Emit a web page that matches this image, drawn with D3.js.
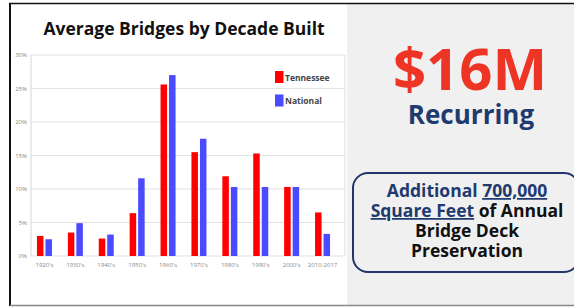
<!DOCTYPE html>
<html lang="en">
<head>
    <script src='https://d3js.org/d3.v7.min.js'></script>
</head>
<body style="margin:0;background:#fff;">
<style>
svg text { font-family: "Open Sans", sans-serif; }
.tick text { fill: #888; font-size: 6px; }
</style>
<script>
// chart data
var decades = ["1920's", "1930's", "1940's", "1950's", "1960's", "1970's", "1980's", "1990's", "2000's", "2010-2017"];
var tennessee = [3.0, 3.5, 2.6, 6.4, 25.6, 15.5, 11.9, 15.3, 10.3, 6.5];
var national = [2.5, 4.9, 3.2, 11.6, 27.0, 17.5, 10.3, 10.3, 10.3, 3.3];
var seriesNames = ["Tennessee", "National"];
var yTicks = [0, 5, 10, 15, 20, 25, 30];

var width = 574;
var height = 307;

var svg = d3.select("body")
.append("svg")
.attr("width", width)
.attr("height", height);

// panels
svg.append("rect").attr("x", 0).attr("y", 0).attr("width", width).attr("height", height).attr("fill", "#fff");
svg.append("rect").attr("x", 347).attr("y", 4).attr("width", width - 347).attr("height", 301).attr("fill", "#f0f0f0");

// plot area
var plot = {left: 31, right: 345, top: 55, bottom: 256};

var x = d3.scaleBand()
.domain(decades)
.range([29, 338])
.paddingInner(0);

var y = d3.scaleLinear()
.domain([0, 30])
.range([plot.bottom, plot.top]);

// gridlines
svg.append("g")
.selectAll("line")
.data(yTicks)
.enter()
.append("line")
.attr("x1", plot.left)
.attr("x2", plot.right)
.attr("y1", function(d) { return y(d); })
.attr("y2", function(d) { return y(d); })
.attr("stroke", "#e2e2e2")
.attr("stroke-width", 1.2);

svg.append("line")
.attr("x1", plot.left).attr("x2", plot.left)
.attr("y1", plot.top).attr("y2", plot.bottom)
.attr("stroke", "#dcdcdc").attr("stroke-width", 1.2);
svg.append("line")
.attr("x1", plot.right).attr("x2", plot.right)
.attr("y1", plot.top).attr("y2", plot.bottom)
.attr("stroke", "#e2e2e2").attr("stroke-width", 1.2);

// y axis
var yAxis = d3.axisLeft(y)
.tickValues(yTicks)
.tickSize(0)
.tickPadding(4)
.tickFormat(function(d) { return d + "%"; });

svg.append("g")
.attr("transform", "translate(" + plot.left + ",0)")
.call(yAxis)
.call(function(g) { g.select(".domain").remove(); });

// x axis
var xAxis = d3.axisBottom(x)
.tickSize(0)
.tickPadding(7);

svg.append("g")
.attr("transform", "translate(0," + plot.bottom + ")")
.call(xAxis)
.call(function(g) { g.select(".domain").remove(); });

// bars
var barW = 6.5;
var colors = ["#ff0000", "#4a4aff"];
var allSeries = [tennessee, national];

allSeries.forEach(function(vals, s) {
  svg.append("g")
  .selectAll("rect")
  .data(vals)
  .enter()
  .append("rect")
  .attr("x", function(d, i) { return x(decades[i]) + x.bandwidth() / 2 - barW - 1 + s * (barW + 2); })
  .attr("y", function(d) { return y(d); })
  .attr("width", barW)
  .attr("height", function(d) { return plot.bottom - y(d); })
  .attr("fill", colors[s]);
});

// legend
var legend = svg.append("g")
.selectAll("g")
.data(seriesNames)
.enter()
.append("g")
.attr("transform", function(d, i) { return "translate(275," + (71 + i * 23.5) + ")"; });

legend.append("rect")
.attr("width", 8.5)
.attr("height", 12)
.attr("fill", function(d, i) { return colors[i]; });

legend.append("text")
.attr("x", 10)
.attr("y", 9.5)
.attr("fill", "#444")
.style("font-size", "8.5px")
.style("font-weight", "bold")
.text(function(d) { return d; });

// title
svg.append("text")
.attr("x", 184)
.attr("y", 35)
.attr("text-anchor", "middle")
.style("font-size", "17.5px")
.style("font-weight", "bold")
.attr("fill", "#111")
.text("Average Bridges by Decade Built");

// right panel texts
svg.append("text")
.attr("x", 470)
.attr("y", 90)
.attr("text-anchor", "middle")
.style("font-size", "58px")
.style("font-weight", "bold")
.attr("fill", "#ee3424")
.text("$16M");

svg.append("text")
.attr("x", 471)
.attr("y", 124)
.attr("text-anchor", "middle")
.style("font-size", "26px")
.style("font-weight", "bold")
.attr("fill", "#1f3a6e")
.text("Recurring");

// rounded box
svg.append("rect")
.attr("x", 353)
.attr("y", 173)
.attr("width", 226)
.attr("height", 99)
.attr("rx", 15)
.attr("fill", "none")
.attr("stroke", "#22386b")
.attr("stroke-width", 2);

var navy = "#1f3a6e";
var lines = [
  [["Additional ", navy, false], ["700,000", navy, true]],
  [["Square Feet", navy, true], [" of Annual", "#111", false]],
  [["Bridge Deck", "#111", false]],
  [["Preservation", "#111", false]]
];

lines.forEach(function(parts, i) {
  var t = svg.append("text")
  .attr("x", 467)
  .attr("y", 197 + i * 20)
  .attr("text-anchor", "middle")
  .style("font-size", "17.5px")
  .style("font-weight", "bold");
  parts.forEach(function(p) {
    t.append("tspan")
    .attr("fill", p[1])
    .style("text-decoration", p[2] ? "underline" : "none")
    .text(p[0]);
  });
});

// outer frame
svg.append("line").attr("x1", 9).attr("x2", width).attr("y1", 3.5).attr("y2", 3.5).attr("stroke", "#111").attr("stroke-width", 1.5);
svg.append("line").attr("x1", 10).attr("x2", 10).attr("y1", 3).attr("y2", 306).attr("stroke", "#111").attr("stroke-width", 2);
svg.append("line").attr("x1", 10).attr("x2", width).attr("y1", 305.5).attr("y2", 305.5).attr("stroke", "#888").attr("stroke-width", 1.5);
</script>
</body>
</html>
